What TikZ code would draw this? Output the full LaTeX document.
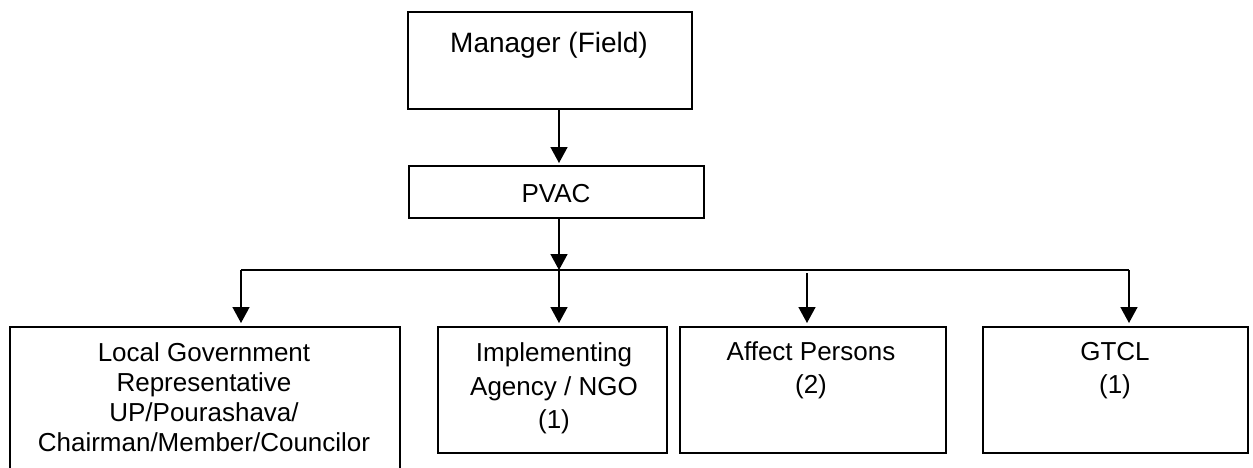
\documentclass[tikz,border=0pt]{standalone}
\usepackage{fontspec}
\setmainfont{Liberation Sans}
\usetikzlibrary{arrows.meta}
\begin{document}
\begin{tikzpicture}[x=1pt,y=-1pt,
  box/.style={draw, line width=1.5pt, inner sep=0pt, anchor=north west},
  txt/.style={font=\fontsize{26}{30}\selectfont, align=center, inner sep=0pt, anchor=north},
  arr/.style={line width=1.5pt, -{Triangle[length=16pt,width=17pt]}},
  ln/.style={line width=1.5pt}]
\clip (0,0) rectangle (1253,467);
% boxes
\node[box, minimum width=284pt, minimum height=97pt] (mgr) at (407,11) {};
\node[box, minimum width=295pt, minimum height=52pt] (pvac) at (408,165) {};
\node[box, minimum width=390pt, minimum height=200pt] (lg) at (9,326) {};
\node[box, minimum width=229pt, minimum height=126pt] (impl) at (437,326) {};
\node[box, minimum width=266pt, minimum height=126pt] (aff) at (679,326) {};
\node[box, minimum width=265pt, minimum height=126pt] (gtcl) at (982,326) {};
% texts
\node[txt, font=\fontsize{28}{32}\selectfont, anchor=base] (tmgr) at (549,52) {Manager (Field)};
\node[txt, anchor=base] (tpvac) at (556,202) {PVAC};
\node[txt] (tlg) at (204,342) {Local Government\\Representative\\UP/Pourashava/\\Chairman/Member/Councilor};
\node[txt] (timpl) at (554,342) {Implementing\\[4pt]Agency / NGO\\[3pt](1)};
\node[txt] (taff) at (811,341) {Affect Persons\\[3pt](2)};
\node[txt] (tgtcl) at (1115,342) {GTCL\\[3pt](1)};
% connector coordinates
\coordinate (cx) at (559,270);
\coordinate (bl) at (241,270);
\coordinate (br) at (1129,270);
\coordinate (ba) at (807,273);
\draw[arr] (mgr.south -| cx) -- ([yshift=2pt]pvac.north -| cx);
\draw[arr] (pvac.south -| cx) -- (cx);
\draw[arr] (cx) -- ([yshift=3pt]impl.north -| cx);
\draw[ln] (bl) -- (br);
\draw[arr] (bl) -- ([yshift=3pt]lg.north -| bl);
\draw[arr] (br) -- ([yshift=3pt]gtcl.north -| br);
\draw[arr] (ba) -- ([yshift=3pt]aff.north -| ba);
\end{tikzpicture}
\end{document}
